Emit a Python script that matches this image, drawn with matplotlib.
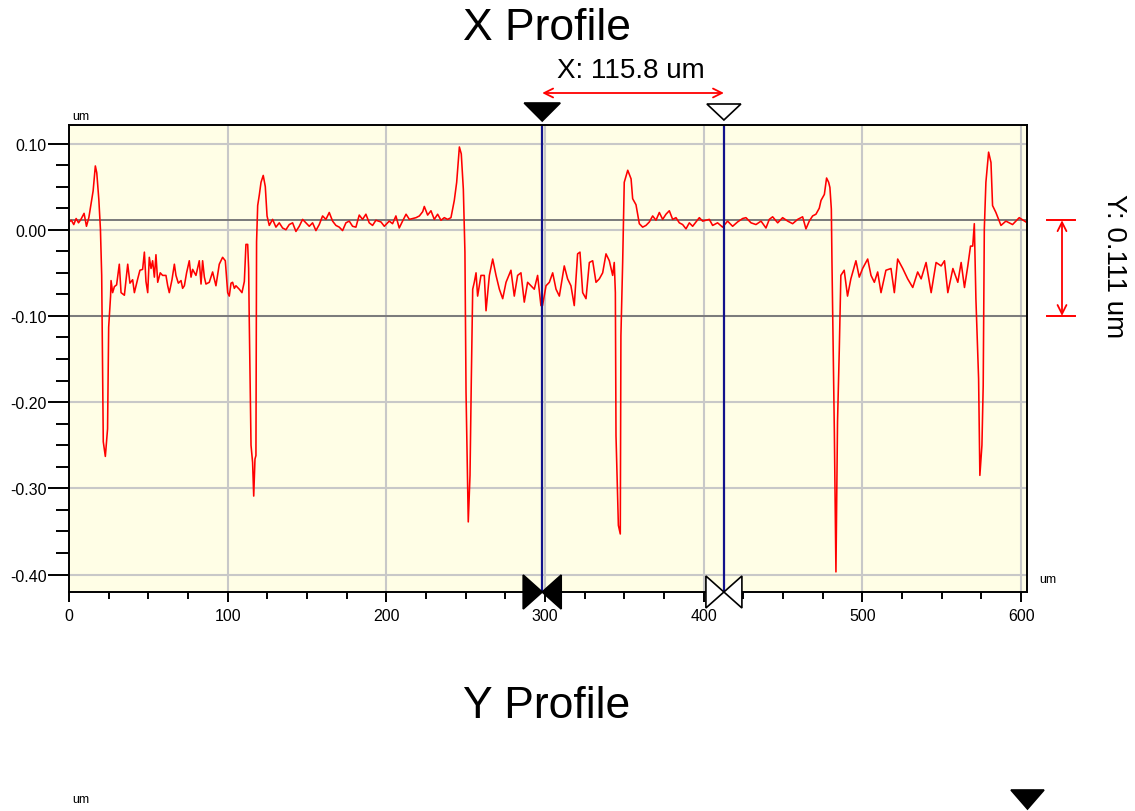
import matplotlib
matplotlib.use('Agg')
import matplotlib.pyplot as plt
from matplotlib.patches import Polygon
from matplotlib.ticker import MultipleLocator

# ---------------- data ----------------
profile_um = [
    0.0, 1.5, 3.0, 4.5, 6.0, 7.5, 9.5, 11.0, 12.5, 13.9, 15.2, 16.6, 17.5, 18.8, 19.8,
    20.6, 21.6, 22.9, 24.3, 25.0, 26.2, 26.5, 27.5, 28.6, 30.0, 31.7, 32.8, 34.9, 37.0,
    38.4, 40.1, 41.2, 43.3, 44.7, 46.4, 47.5, 48.5, 49.6, 50.6, 51.7, 52.7, 53.8, 54.8,
    55.9, 57.5, 59.0, 61.1, 62.2, 63.2, 64.9, 66.4, 67.4, 68.9, 70.6, 71.6, 72.7, 74.1,
    75.8, 76.9, 77.9, 80.0, 82.1, 83.2, 84.2, 85.3, 86.3, 88.4, 90.5, 92.6, 94.7, 96.8,
    98.5, 100.0, 101.0, 102.1, 103.1, 104.2, 105.2, 107.3, 109.0, 110.5, 111.5, 112.6,
    113.2, 113.6, 114.7, 115.7, 116.4, 117.2, 117.8, 118.2, 118.9, 119.9, 121.0, 122.4,
    123.7, 124.8, 126.2, 128.3, 130.4, 132.5, 134.6, 136.7, 138.8, 140.9, 143.0, 145.1,
    147.2, 149.3, 151.4, 153.5, 155.6, 157.7, 159.8, 161.9, 164.0, 166.1, 168.2, 170.3,
    172.4, 174.5, 176.6, 178.7, 180.8, 182.9, 185.0, 187.1, 189.2, 191.3, 193.4, 196.6,
    198.7, 201.8, 203.9, 206.0, 208.1, 210.2, 212.4, 214.5, 216.6, 218.7, 220.8, 222.9,
    223.9, 226.0, 228.1, 230.2, 232.3, 234.4, 236.5, 238.6, 240.7, 242.8, 244.3, 246.0,
    247.2, 248.5, 249.5, 250.2, 251.6, 252.7, 253.5, 254.4, 255.4, 256.5, 257.5, 259.6,
    261.7, 262.8, 264.9, 267.0, 269.1, 271.2, 273.3, 275.4, 278.5, 280.6, 282.7, 284.8,
    286.9, 289.0, 291.1, 293.2, 295.3, 297.4, 298.4, 300.6, 302.7, 304.8, 306.9, 309.0,
    312.1, 314.2, 316.3, 318.4, 320.5, 322.0, 323.7, 325.8, 327.9, 330.0, 332.1, 334.2,
    336.3, 338.4, 340.5, 342.6, 343.6, 344.3, 344.7, 346.2, 347.4, 347.8, 348.9, 349.9,
    352.1, 354.2, 355.2, 357.3, 359.4, 361.5, 363.6, 365.7, 367.8, 369.9, 372.0, 374.1,
    376.2, 378.3, 380.4, 382.5, 384.6, 386.7, 388.8, 390.9, 393.0, 395.1, 397.2, 399.3,
    403.5, 405.6, 408.7, 411.9, 415.0, 418.2, 421.3, 424.5, 426.6, 429.8, 432.9, 436.1,
    439.2, 441.3, 443.4, 446.6, 449.7, 452.9, 456.0, 459.2, 462.3, 464.4, 466.5, 468.6,
    470.7, 472.8, 473.9, 476.0, 477.4, 478.7, 479.5, 480.4, 480.8, 482.3, 483.3, 484.3,
    485.4, 486.4, 488.5, 490.6, 492.7, 495.9, 498.0, 500.1, 503.3, 505.4, 507.5, 509.6,
    511.7, 514.8, 518.0, 520.1, 522.2, 525.4, 528.5, 531.7, 534.8, 537.0, 540.1, 543.3,
    546.4, 549.6, 551.7, 553.8, 557.0, 560.1, 562.2, 564.3, 566.4, 568.1, 569.5, 570.5,
    571.5, 573.2, 574.0, 575.3, 576.1, 576.8, 577.8, 579.5, 581.0, 582.0, 584.1, 587.3,
    590.4, 594.6, 598.8, 603.0,
]
profile_height = [
    0.009, 0.011, 0.006, 0.013, 0.008, 0.012, 0.019, 0.004, 0.014, 0.030, 0.045, 0.074, 0.066, 0.035, 0.001,
    -0.053, -0.246, -0.263, -0.231, -0.113, -0.077, -0.059, -0.073, -0.066, -0.064, -0.040, -0.073, -0.076, -0.040,
    -0.062, -0.058, -0.073, -0.057, -0.047, -0.046, -0.026, -0.060, -0.073, -0.032, -0.045, -0.036, -0.055, -0.029,
    -0.061, -0.050, -0.053, -0.053, -0.065, -0.073, -0.058, -0.040, -0.053, -0.062, -0.059, -0.068, -0.065, -0.050,
    -0.036, -0.055, -0.046, -0.053, -0.036, -0.063, -0.036, -0.055, -0.063, -0.061, -0.049, -0.065, -0.040, -0.032,
    -0.036, -0.073, -0.077, -0.062, -0.061, -0.068, -0.065, -0.069, -0.073, -0.060, -0.017, -0.017,
    -0.045, -0.106, -0.250, -0.270, -0.309, -0.266, -0.262, -0.014, 0.028, 0.040, 0.055, 0.063,
    0.050, 0.016, 0.005, 0.012, 0.003, 0.008, 0.002, 0.000, 0.006, 0.008, -0.002, 0.004,
    0.012, 0.008, 0.004, 0.008, -0.001, 0.006, 0.016, 0.012, 0.020, 0.010, 0.005, 0.003,
    -0.001, 0.008, 0.010, 0.004, 0.003, 0.017, 0.012, 0.018, 0.008, 0.005, 0.011, 0.009,
    0.004, 0.010, 0.007, 0.016, 0.002, 0.010, 0.018, 0.012, 0.013, 0.014, 0.016, 0.021,
    0.027, 0.017, 0.022, 0.012, 0.018, 0.011, 0.014, 0.012, 0.014, 0.034, 0.055, 0.096,
    0.088, 0.047, -0.026, -0.189, -0.339, -0.285, -0.177, -0.069, -0.061, -0.050, -0.077, -0.053,
    -0.053, -0.094, -0.053, -0.034, -0.053, -0.069, -0.080, -0.061, -0.047, -0.077, -0.053, -0.050,
    -0.084, -0.061, -0.065, -0.069, -0.053, -0.088, -0.088, -0.065, -0.061, -0.050, -0.069, -0.077,
    -0.042, -0.057, -0.065, -0.088, -0.028, -0.026, -0.073, -0.080, -0.038, -0.036, -0.061, -0.057,
    -0.050, -0.028, -0.036, -0.053, -0.038, -0.073, -0.239, -0.343, -0.353, -0.123, -0.038, 0.055,
    0.069, 0.059, 0.036, 0.029, 0.007, 0.003, 0.005, 0.009, 0.016, 0.011, 0.020, 0.012,
    0.018, 0.022, 0.012, 0.014, 0.008, 0.006, 0.001, 0.008, 0.004, 0.009, 0.014, 0.010,
    0.012, 0.005, 0.008, 0.003, 0.010, 0.004, 0.009, 0.013, 0.014, 0.008, 0.006, 0.010,
    0.002, 0.012, 0.015, 0.008, 0.014, 0.010, 0.007, 0.012, 0.015, 0.001, 0.010, 0.016,
    0.018, 0.025, 0.034, 0.041, 0.060, 0.055, 0.049, 0.024, -0.038, -0.235, -0.397, -0.223,
    -0.140, -0.053, -0.047, -0.077, -0.057, -0.036, -0.055, -0.045, -0.034, -0.053, -0.061, -0.049,
    -0.073, -0.047, -0.045, -0.073, -0.034, -0.045, -0.057, -0.067, -0.049, -0.057, -0.038, -0.073,
    -0.038, -0.042, -0.036, -0.073, -0.045, -0.061, -0.038, -0.067, -0.042, -0.019, -0.019, 0.007,
    -0.080, -0.173, -0.285, -0.250, -0.181, 0.001, 0.055, 0.090, 0.078, 0.028, 0.020, 0.005,
    0.010, 0.006, 0.014, 0.009,
]

x_ticks = [0, 100, 200, 300, 400, 500, 600]
y_ticks = [0.10, 0.00, -0.10, -0.20, -0.30, -0.40]
y_tick_labels = ['0.10', '0.00', '-0.10', '-0.20', '-0.30', '-0.40']
cursor_x = [298.2, 412.7]          # um
cursor_y = [0.011, -0.100]         # um
x_measure_label = 'X: 115.8 um'
y_measure_label = 'Y: 0.111 um'
title_top = 'X Profile'
title_bottom = 'Y Profile'
unit = 'um'

# ---------------- figure ----------------
W, H = 1135, 812
plt.rcParams['font.family'] = ['Liberation Sans', 'DejaVu Sans']
fig = plt.figure(figsize=(W / 100, H / 100), dpi=100)
fig.patch.set_facecolor('white')


def fx(px):
    return px / W


def fy(py):
    return 1 - py / H


ax = fig.add_axes([fx(69), fy(593), (1027 - 69) / W, (593 - 126) / H])
ax.set_facecolor('#FFFEE6')
ax.set_xlim(0, 603.7)
ax.set_ylim(-0.4203, 0.1215)

for gx in x_ticks[1:]:
    ax.axvline(gx, color='#C8C8C8', lw=1.5, zorder=1)
for gy in y_ticks:
    ax.axhline(gy, color='#C8C8C8', lw=1.5, zorder=1)
for cy in cursor_y:
    ax.axhline(cy, color='#7A7A7A', lw=1.4, zorder=2)

ax.plot(profile_um, profile_height, color='#FF0000', lw=1.15, zorder=3)

for cx in cursor_x:
    ax.axvline(cx, color='#12128C', lw=1.6, zorder=4)

ax.set_xticks(x_ticks)
ax.set_xticklabels([str(v) for v in x_ticks])
ax.set_yticks(y_ticks)
ax.set_yticklabels(y_tick_labels)
ax.xaxis.set_minor_locator(MultipleLocator(25))
ax.yaxis.set_minor_locator(MultipleLocator(0.025))
ax.tick_params(axis='x', which='major', length=7.5, width=1.4, labelsize=11.5, pad=4)
ax.tick_params(axis='x', which='minor', length=5, width=1.4)
ax.tick_params(axis='y', which='major', length=15, width=1.4, labelsize=11.5, pad=1)
ax.tick_params(axis='y', which='minor', length=9.5, width=1.4)
for sp in ax.spines.values():
    sp.set_linewidth(1.4)
    sp.set_color('black')
    sp.set_zorder(5)


def data_px_x(v):
    return ax.transData.transform((v, 0))[0]


def data_px_y(v):
    return H - ax.transData.transform((0, v))[1]


# titles and texts
fig.text(fx(547), fy(28), title_top, ha='center', va='center', fontsize=32)
fig.text(fx(547), fy(707), title_bottom, ha='center', va='center', fontsize=32)
fig.text(fx(81), fy(117), unit, ha='center', va='center', fontsize=9)
fig.text(fx(1048), fy(580), unit, ha='center', va='center', fontsize=9)
fig.text(fx(81), fy(800), unit, ha='center', va='center', fontsize=9)

cx0, cx1 = data_px_x(cursor_x[0]), data_px_x(cursor_x[1])


def add_poly(pts, face, edge='black', lw=1.2):
    p = Polygon([(fx(a), fy(b)) for a, b in pts], closed=True, transform=fig.transFigure,
                facecolor=face, edgecolor=edge, lw=lw, zorder=10, clip_on=False)
    fig.add_artist(p)


# top cursor markers
add_poly([(cx0 - 18, 104), (cx0 + 18, 104), (cx0, 122)], 'black')
add_poly([(cx1 - 17, 105), (cx1 + 17, 105), (cx1, 121)], 'white')

# bottom bow-tie markers
add_poly([(cx0 - 19, 576), (cx0 - 19, 610), (cx0, 593)], 'black')
add_poly([(cx0 + 19, 576), (cx0 + 19, 610), (cx0, 593)], 'black')
add_poly([(cx1 - 18, 577), (cx1 - 18, 609), (cx1, 593)], 'white')
add_poly([(cx1 + 18, 577), (cx1 + 18, 609), (cx1, 593)], 'white')

# bottom-right marker of the second chart
add_poly([(1011, 791), (1044, 791), (1027.5, 810)], 'black')

# X measurement arrow
ax.annotate('', xy=(cx1, H - 94), xytext=(cx0, H - 94), xycoords='figure pixels',
            textcoords='figure pixels',
            arrowprops=dict(arrowstyle='<->', color='#FF0000', lw=1.3, mutation_scale=16,
                            shrinkA=0, shrinkB=0))
fig.text(fx(631), fy(71), x_measure_label, ha='center', va='center', fontsize=20)

# Y measurement arrow
yt, yb = data_px_y(cursor_y[0]), data_px_y(cursor_y[1])
ax.annotate('', xy=(1062, H - yb), xytext=(1062, H - yt), xycoords='figure pixels',
            textcoords='figure pixels',
            arrowprops=dict(arrowstyle='<->', color='#FF0000', lw=1.3, mutation_scale=16,
                            shrinkA=0, shrinkB=0))
for yy in (yt, yb):
    fig.add_artist(plt.Line2D([fx(1047), fx(1075)], [fy(yy), fy(yy)], color='#FF0000',
                              lw=1.4, transform=fig.transFigure))
fig.text(fx(1114), fy(266), y_measure_label, ha='center', va='center', fontsize=20,
         rotation=270)

fig.savefig('out.png', dpi=100)
